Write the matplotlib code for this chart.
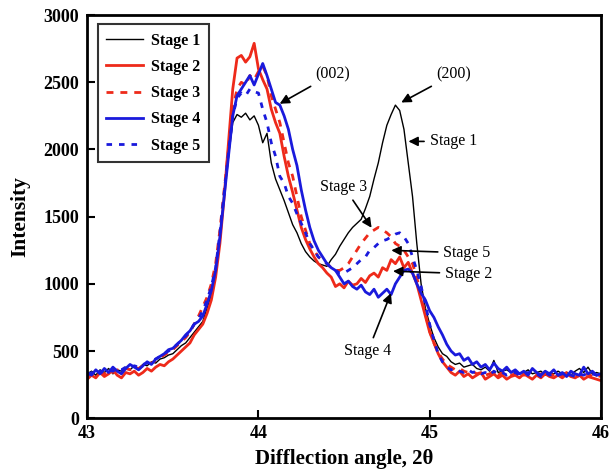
import matplotlib
matplotlib.use("Agg")
import matplotlib.pyplot as plt
import numpy as np

# --- DATA (0.025 deg steps from 43 to 46) ---
angle = np.round(np.arange(0, 121) * 0.025 + 43.0, 3)

stage1 = [
    330, 350, 320, 360, 340, 370, 330, 360, 350, 380,
    360, 390, 370, 400, 390, 420, 410, 440, 450, 470,
    480, 510, 540, 560, 600, 640, 680, 720, 820, 920,
    1100, 1350, 1650, 1950, 2200, 2260, 2240, 2270, 2220, 2250,
    2180, 2050, 2120, 1900, 1780, 1700, 1620, 1530, 1440, 1380,
    1300, 1240, 1200, 1170, 1150, 1140, 1130, 1180, 1220, 1280,
    1330, 1380, 1420, 1450, 1480, 1560, 1650, 1780, 1900, 2050,
    2180, 2260, 2330, 2290, 2150, 1900, 1650, 1300, 1000, 820,
    700, 600, 530, 480, 460, 420, 400, 410, 380, 390,
    400, 370, 360, 380, 350, 430, 340, 350, 360, 340,
    350, 330, 340, 360, 330, 340, 350, 320, 340, 330,
    350, 330, 340, 320, 350, 370, 340, 380, 330, 340,
    330,
]
stage2 = [
    290, 320, 300, 340, 310, 330, 360, 320, 300, 340,
    330, 350, 320, 340, 370, 350, 380, 400, 390, 420,
    440, 470, 500, 530, 560, 620, 660, 700, 780, 880,
    1050, 1300, 1650, 2050, 2450, 2680, 2700, 2650, 2690, 2790,
    2600, 2520, 2450, 2300, 2200, 2120, 1950, 1800, 1680, 1550,
    1420, 1330, 1260, 1200, 1150, 1120, 1080, 1050, 980, 1000,
    970, 1020, 990, 1000, 1040, 1010, 1060, 1080, 1050, 1120,
    1100, 1180, 1150, 1200, 1120, 1160, 1080, 1000, 880, 760,
    640, 560, 480, 420, 380, 340, 320, 350, 310, 330,
    300, 320, 340, 290, 310, 330, 300, 320, 290, 310,
    320, 300, 330, 310, 290, 320, 300, 330, 310, 300,
    320, 300, 330, 310, 300, 320, 290, 310, 300, 290,
    280,
]
stage3 = [
    310, 330, 320, 340, 330, 350, 340, 360, 350, 370,
    360, 380, 370, 390, 400, 410, 430, 450, 470, 490,
    510, 540, 570, 600, 640, 700, 760, 830, 900, 1000,
    1150, 1400, 1700, 2000, 2300, 2450, 2500, 2480, 2550, 2520,
    2580, 2620, 2550, 2400, 2300, 2200, 2050, 1900, 1800, 1650,
    1500, 1400, 1300, 1250, 1200, 1170, 1150, 1120, 1100, 1100,
    1120, 1150, 1200, 1250, 1300, 1340, 1380, 1400, 1420, 1400,
    1380, 1350, 1300, 1280, 1250, 1200, 1150, 1050, 900, 780,
    650, 560, 490, 440, 400, 380, 360, 370, 350, 340,
    350, 330, 340, 320, 330, 350, 320, 340, 330, 320,
    330, 340, 320, 330, 340, 320, 330, 310, 330, 320,
    330, 320, 340, 320, 330, 310, 320, 330, 310, 320,
    310,
]
stage4 = [
    340, 320, 360, 330, 370, 340, 380, 350, 330, 370,
    400, 380, 360, 390, 420, 400, 440, 460, 480, 510,
    520, 550, 580, 620, 650, 700, 720, 760, 850, 950,
    1100, 1350, 1650, 1950, 2250, 2400, 2450, 2500, 2550, 2480,
    2560, 2640, 2550, 2450, 2350, 2330, 2250, 2150, 2000, 1880,
    1700, 1550, 1420, 1320, 1250, 1200, 1150, 1120, 1100, 1050,
    1000, 1020, 980, 960, 990, 940, 920, 960, 900, 930,
    960, 920, 1000, 1050, 1100, 1110, 1080, 1000, 930, 880,
    800, 750, 680, 620, 550, 500, 470, 480, 430, 450,
    400, 420, 380, 400, 360, 410, 370, 350, 380, 340,
    360, 330, 350, 320, 370, 340, 320, 350, 330, 360,
    320, 340, 310, 350, 330, 320, 380, 330, 350, 320,
    330,
]
stage5 = [
    320, 340, 330, 350, 340, 360, 350, 370, 360, 380,
    370, 390, 380, 400, 410, 430, 440, 460, 480, 500,
    520, 550, 580, 610, 650, 700, 740, 800, 880, 980,
    1120, 1380, 1680, 1980, 2250, 2380, 2420, 2400, 2450, 2430,
    2420, 2300, 2200, 2050, 1950, 1800, 1750, 1650, 1600, 1520,
    1450, 1380, 1300, 1250, 1200, 1180, 1150, 1120, 1100, 1080,
    1080, 1100, 1120, 1150, 1180, 1200, 1250, 1270, 1300, 1320,
    1330, 1350, 1370, 1380, 1350, 1300, 1200, 1100, 980, 850,
    700, 580, 480, 420, 380, 360, 370, 350, 340, 360,
    340, 350, 330, 340, 320, 350, 330, 340, 320, 330,
    340, 320, 330, 340, 320, 330, 310, 340, 320, 330,
    320, 330, 340, 320, 310, 330, 320, 340, 330, 320,
    320,
]

series = [
    ("Stage 1", stage1, "black", "-", 1.0),
    ("Stage 2", stage2, "#ee2a1a", "-", 2.0),
    ("Stage 3", stage3, "#ee2a1a", (0, (2.5, 2.5)), 2.0),
    ("Stage 4", stage4, "#1a1adc", "-", 2.0),
    ("Stage 5", stage5, "#1a1adc", (0, (2, 2.5)), 2.0),
]

plt.rcParams['font.family'] = ['Liberation Serif', 'DejaVu Serif']

fig = plt.figure(figsize=(6.1, 4.72), dpi=100)
ax = fig.add_axes([0.143, 0.114, 0.842, 0.854])

for name, vals, col, ls, lw in series:
    ax.plot(angle, vals, color=col, linestyle=ls, linewidth=lw, label=name)

ax.set_xlim(43, 46)
ax.set_ylim(0, 3000)
ax.set_xticks([43, 44, 45, 46])
ax.set_yticks([0, 500, 1000, 1500, 2000, 2500, 3000])
ax.tick_params(direction='in', length=6, width=1.5, labelsize=13)
ax.tick_params(axis='y', pad=6)
ax.tick_params(axis='x', pad=5)
for lab in ax.get_xticklabels() + ax.get_yticklabels():
    lab.set_fontweight('bold')
for sp in ax.spines.values():
    sp.set_linewidth(2)

ax.set_xlabel('Difflection angle, 2θ', fontsize=15, fontweight='bold', labelpad=5)
ax.set_ylabel('Intensity', fontsize=15.5, fontweight='bold', labelpad=9)

leg = ax.legend(loc='upper left', bbox_to_anchor=(0.02, 0.978), borderaxespad=0,
                fancybox=False, prop={'weight': 'bold', 'size': 11.5}, handlelength=2.3,
                handletextpad=0.5, labelspacing=0.64, borderpad=0.55)
leg.get_frame().set_edgecolor('black')
leg.get_frame().set_linewidth(1.5)

arrow = dict(arrowstyle='-|>', color='black', lw=1.2, mutation_scale=14)
txt = dict(fontsize=11.5)
ax.annotate('(002)', xy=(44.11, 2330), xytext=(44.33, 2560), arrowprops=arrow, va='center', **txt)
ax.annotate('(200)', xy=(44.82, 2340), xytext=(45.04, 2560), arrowprops=arrow, va='center', **txt)
ax.annotate('Stage 1', xy=(44.86, 2060), xytext=(45.0, 2060), arrowprops=arrow, va='center', **txt)
ax.annotate('Stage 3', xy=(44.67, 1400), xytext=(44.5, 1720), arrowprops=arrow, ha='center', va='center', **txt)
ax.annotate('Stage 5', xy=(44.76, 1250), xytext=(45.08, 1230), arrowprops=arrow, va='center', **txt)
ax.annotate('Stage 2', xy=(44.77, 1095), xytext=(45.09, 1075), arrowprops=arrow, va='center', **txt)
ax.annotate('Stage 4', xy=(44.78, 950), xytext=(44.64, 500), arrowprops=arrow, ha='center', va='center', **txt)

fig.savefig('out.png', dpi=100)
